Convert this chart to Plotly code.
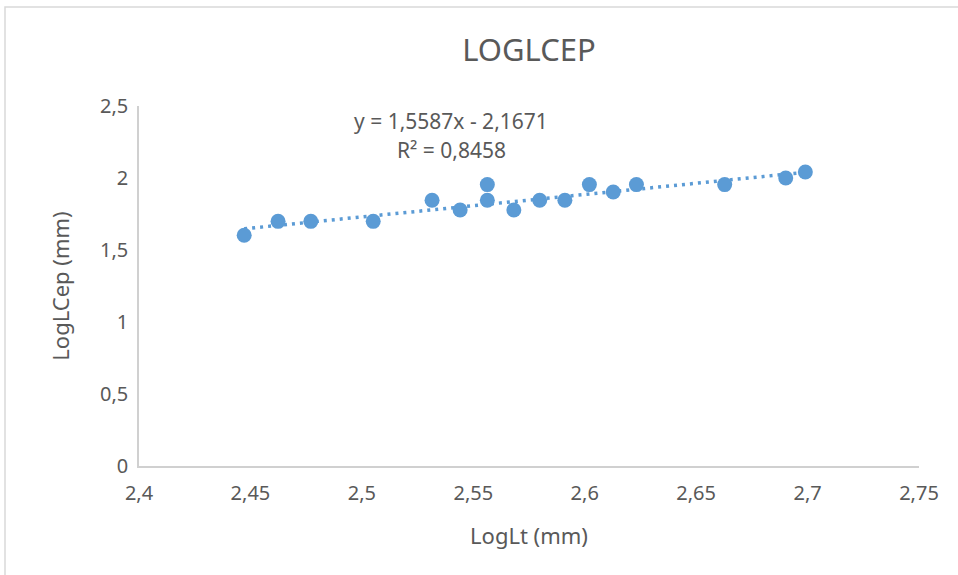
import plotly.graph_objects as go

# Data
log_lt = [2.4472, 2.4624, 2.4771, 2.5051, 2.5315, 2.5441, 2.5563, 2.5563,
          2.5682, 2.5798, 2.5911, 2.6021, 2.6128, 2.6232, 2.6628, 2.6902, 2.6990]
log_lcep = [1.6021, 1.6990, 1.6990, 1.6990, 1.8451, 1.7782, 1.9542, 1.8451,
            1.7782, 1.8451, 1.8451, 1.9542, 1.9031, 1.9542, 1.9542, 2.0000, 2.0414]

slope = 1.5587
intercept = -2.1671
eq_text = "y = 1,5587x - 2,1671"
r2_text = "R² = 0,8458"

x_tickvals = [2.4, 2.45, 2.5, 2.55, 2.6, 2.65, 2.7, 2.75]
x_ticktext = ["2,4", "2,45", "2,5", "2,55", "2,6", "2,65", "2,7", "2,75"]
y_tickvals = [0, 0.5, 1, 1.5, 2, 2.5]
y_ticktext = ["0", "0,5", "1", "1,5", "2", "2,5"]

title_text = "LOGLCEP"
x_title = "LogLt (mm)"
y_title = "LogLCep (mm)"

BLUE = "#5b9bd5"
TXT = "#595959"
FONT = "Noto Sans"

trend_x = [min(log_lt), max(log_lt)]
trend_y = [slope * v + intercept for v in trend_x]

fig = go.Figure()
fig.add_trace(go.Scatter(x=trend_x, y=trend_y, mode="lines",
                         line=dict(color=BLUE, width=3.5, dash="3px,5px"),
                         hoverinfo="skip", showlegend=False))
fig.add_trace(go.Scatter(x=log_lt, y=log_lcep, mode="markers",
                         marker=dict(color=BLUE, size=15, line=dict(width=0)),
                         showlegend=False))

W, H = 958, 575
ml, mr, mt, mb = 139, 39, 106, 109
pw, ph = W - ml - mr, H - mt - mb

fig.update_layout(
    width=W, height=H,
    margin=dict(l=ml, r=mr, t=mt, b=mb, pad=0),
    paper_bgcolor="white", plot_bgcolor="white",
    font=dict(family=FONT, color=TXT),
    title=dict(text=title_text, x=0.5, xanchor="center", xref="paper",
               y=1 - 50 / H, yanchor="middle", yref="container",
               font=dict(size=31, color=TXT, family=FONT)),
    xaxis=dict(range=[2.4, 2.75], tickvals=x_tickvals, ticktext=x_ticktext,
               showgrid=False, zeroline=False, showline=True,
               linecolor="#d0d0d0", linewidth=1.5, ticks="",
               tickfont=dict(size=20, color=TXT, family=FONT),
               ticklabelstandoff=8,
               title=dict(text=x_title, font=dict(size=22, color=TXT, family=FONT),
                          standoff=24)),
    yaxis=dict(range=[0, 2.5], tickvals=y_tickvals, ticktext=y_ticktext,
               showgrid=False, zeroline=False, showline=True,
               linecolor="#d0d0d0", linewidth=1.5, ticks="",
               tickfont=dict(size=20, color=TXT, family=FONT),
               ticklabelstandoff=5,
               title=dict(text=y_title, font=dict(size=22, color=TXT, family=FONT),
                          standoff=24)),
    annotations=[
        dict(text=eq_text, xref="paper", yref="paper",
             x=(451 - ml) / pw, y=(H - mb - 121) / ph,
             xanchor="center", yanchor="middle", showarrow=False,
             font=dict(size=21, color=TXT, family=FONT)),
        dict(text=r2_text, xref="paper", yref="paper",
             x=(451 - ml) / pw, y=(H - mb - 150) / ph,
             xanchor="center", yanchor="middle", showarrow=False,
             font=dict(size=21, color=TXT, family=FONT)),
    ],
    shapes=[dict(type="rect", xref="paper", yref="paper",
                 x0=(5 - ml) / pw, x1=(990 - ml) / pw,
                 y0=(H - mb - 600) / ph, y1=(H - mb - 7) / ph,
                 line=dict(color="#d9d9d9", width=1.5), layer="below")],
)

fig.write_html("out.html", config={"displayModeBar": False},
               post_script="document.body.style.margin='0';document.body.style.overflow='hidden';")
